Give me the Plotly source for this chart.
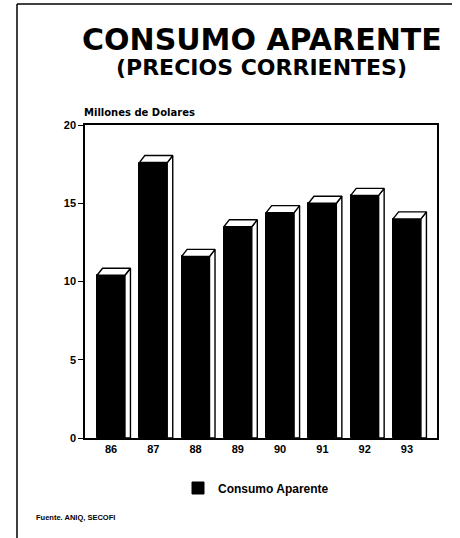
import plotly.graph_objects as go

# ---- data ----
years = ["86", "87", "88", "89", "90", "91", "92", "93"]
consumo = [10.4, 17.6, 11.6, 13.5, 14.4, 15.0, 15.5, 14.0]
y_ticks = [0, 5, 10, 15, 20]

xs = list(range(len(years)))
half = 0.33   # half bar width (category units)
dx = 0.13     # depth offset, x
dy = 0.45     # depth offset, y

fig = go.Figure()

fig.add_trace(go.Bar(
    x=xs, y=consumo, width=2 * half,
    marker=dict(color="black", line=dict(color="black", width=1)),
    name="Consumo Aparente", showlegend=True, hoverinfo="skip",
))

# 3D side faces
sx, sy = [], []
for x, v in zip(xs, consumo):
    xr = x + half
    sx += [xr, xr, xr + dx, xr + dx, xr, None]
    sy += [0, v, v + dy, 0, 0, None]
fig.add_trace(go.Scatter(
    x=sx, y=sy, mode="lines", fill="toself", fillcolor="white",
    line=dict(color="black", width=1.4), showlegend=False, hoverinfo="skip",
))

# 3D caps
cx, cy = [], []
for x, v in zip(xs, consumo):
    xl, xr = x - half, x + half
    cx += [xl, xl + dx, xr + dx, xr, xl, None]
    cy += [v, v + dy, v + dy, v, v, None]
fig.add_trace(go.Scatter(
    x=cx, y=cy, mode="lines", fill="toself", fillcolor="white",
    line=dict(color="black", width=1.4), showlegend=False, hoverinfo="skip",
))

L, R, T, B = 85, 23, 125, 100
W, H = 460, 538
pw, ph = W - L - R, H - T - B

def px_x(p):
    return (p - L) / pw

def px_y(p):
    return (H - B - p) / ph

fig.update_layout(
    width=W, height=H,
    margin=dict(l=L, r=R, t=T, b=B),
    paper_bgcolor="white", plot_bgcolor="white",
    bargap=0,
    xaxis=dict(
        range=[-0.615, 7.71], tickvals=xs, ticktext=years,
        showgrid=False, zeroline=False, ticks="",
        showline=True, mirror=True, linecolor="black", linewidth=1.5,
        tickfont=dict(family="Liberation Sans", size=11, color="black", weight="bold"),
        fixedrange=True,
    ),
    yaxis=dict(
        range=[0, 20], tickvals=y_ticks, ticktext=[str(t) for t in y_ticks],
        showgrid=False, zeroline=False, ticks="outside", ticklen=5,
        tickcolor="black", tickwidth=1.3,
        showline=True, mirror=True, linecolor="black", linewidth=1.5,
        tickfont=dict(family="Liberation Sans", size=11, color="black", weight="bold"),
        fixedrange=True,
    ),
    legend=dict(
        orientation="h", x=px_x(178), xanchor="left", y=px_y(488), yanchor="middle",
        font=dict(family="Liberation Sans", size=12, color="black", weight="bold"),
        bgcolor="rgba(0,0,0,0)",
    ),
    showlegend=True,
    annotations=[
        dict(text="CONSUMO APARENTE", xref="paper", yref="paper",
             x=px_x(262), y=px_y(39), xanchor="center", yanchor="middle",
             showarrow=False,
             font=dict(family="DejaVu Sans", size=30, color="black", weight="bold")),
        dict(text="(PRECIOS CORRIENTES)", xref="paper", yref="paper",
             x=px_x(261), y=px_y(68), xanchor="center", yanchor="middle",
             showarrow=False,
             font=dict(family="DejaVu Sans", size=22, color="black", weight="bold")),
        dict(text="Millones de Dolares", xref="paper", yref="paper",
             x=px_x(82), y=px_y(113), xanchor="left", yanchor="middle",
             showarrow=False,
             font=dict(family="DejaVu Sans", size=10, color="black", weight="bold")),
        dict(text="Fuente. ANIQ, SECOFI", xref="paper", yref="paper",
             x=px_x(34), y=px_y(517), xanchor="left", yanchor="middle",
             showarrow=False,
             font=dict(family="Liberation Sans", size=7.5, color="black", weight="bold")),
    ],
    shapes=[
        dict(type="line", xref="paper", yref="paper",
             x0=px_x(17), x1=px_x(17), y0=px_y(4), y1=px_y(538),
             line=dict(color="black", width=1.5)),
        dict(type="line", xref="paper", yref="paper",
             x0=px_x(17), x1=px_x(452), y0=px_y(4), y1=px_y(4),
             line=dict(color="black", width=1.5)),
    ],
)

fig.write_html("out.html")
